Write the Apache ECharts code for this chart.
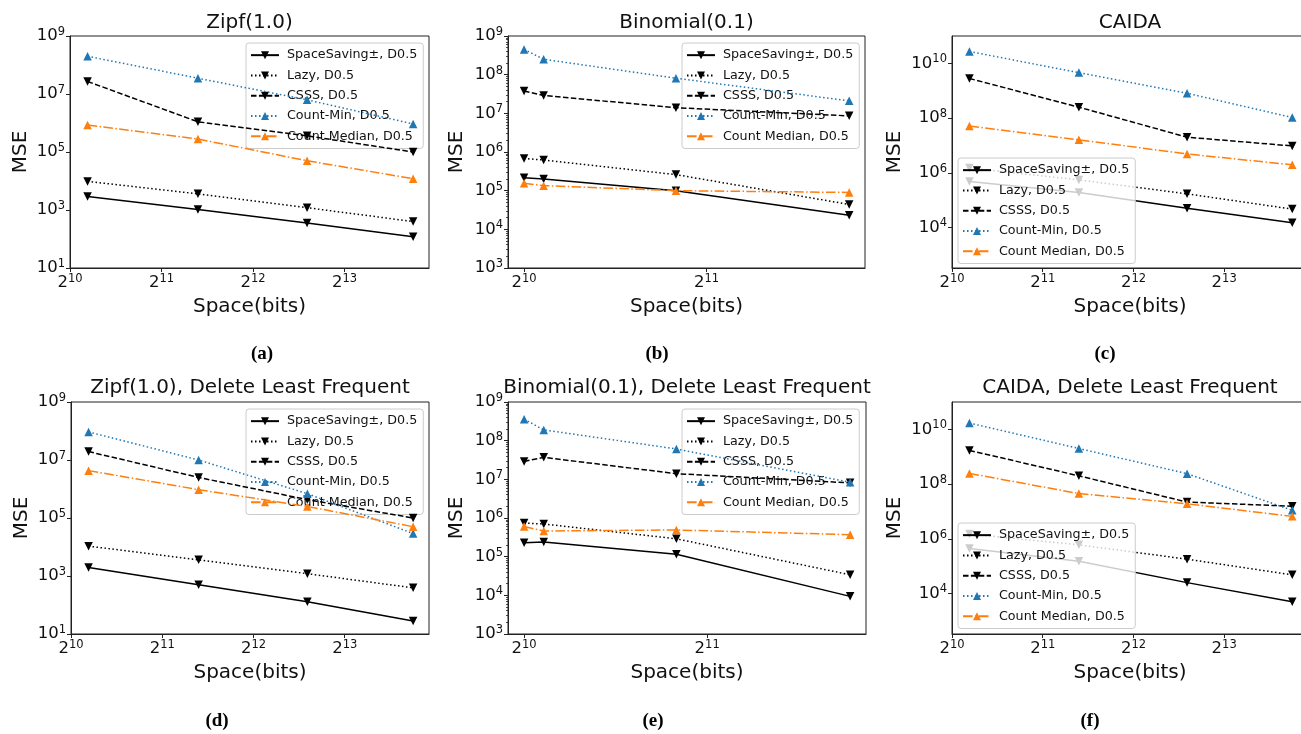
<!DOCTYPE html>
<html><head><meta charset="utf-8">
<script src="https://cdn.jsdelivr.net/npm/echarts@6/dist/echarts.min.js"></script>
<style>html,body{margin:0;padding:0;background:#fff}#c{width:1301px;height:734px}</style>
</head><body><div id="c"></div>
<script>
// ---------------- DATA ----------------
const seriesNames = ['SpaceSaving±, D0.5', 'Lazy, D0.5', 'CSSS, D0.5', 'Count-Min, D0.5', 'Count Median, D0.5'];
const panelTitles = ['Zipf(1.0)', 'Binomial(0.1)', 'CAIDA',
  'Zipf(1.0), Delete Least Frequent', 'Binomial(0.1), Delete Least Frequent', 'CAIDA, Delete Least Frequent'];
const panelCaptions = ['(a)', '(b)', '(c)', '(d)', '(e)', '(f)'];
const xAxisName = 'Space(bits)';
const yAxisName = 'MSE';

// Space (bits) of each point
const spaceZipfCaida = [1170, 2700, 6170, 13780];
const spaceBinomial = [1024, 1103, 1823, 3520];

// (a) Zipf(1.0)
const zipfSS = [2900, 1050, 355, 120];
const zipfLazy = [9700, 3600, 1200, 400];
const zipfCSSS = [2.7e7, 1.1e6, 3.6e5, 1.0e5];
const zipfCM = [2.0e8, 3.5e7, 6.3e6, 9.3e5];
const zipfCMed = [8.5e5, 2.8e5, 5.0e4, 1.2e4];
// (b) Binomial(0.1)
const binSS = [2.15e5, 2.0e5, 1.0e5, 2.3e4];
const binLazy = [6.8e5, 6.2e5, 2.6e5, 4.4e4];
const binCSSS = [3.8e7, 2.9e7, 1.4e7, 8.6e6];
const binCM = [4.5e8, 2.5e8, 8.1e7, 2.1e7];
const binCMed = [1.55e5, 1.35e5, 1.0e5, 9.0e4];
// (c) CAIDA
const caidaSS = [4.8e5, 1.9e5, 5.1e4, 1.5e4];
const caidaLazy = [1.5e6, 5.5e5, 1.7e5, 4.7e4];
const caidaCSSS = [2.8e9, 2.5e8, 2.0e7, 9.6e6];
const caidaCM = [2.7e10, 4.6e9, 8.1e8, 1.05e8];
const caidaCMed = [5.1e7, 1.6e7, 4.9e6, 1.95e6];
// (d) Zipf(1.0), Delete Least Frequent
const zipfDlfSS = [1950, 500, 130, 28];
const zipfDlfLazy = [1.07e4, 3600, 1200, 390];
const zipfDlfCSSS = [1.95e7, 2.5e6, 4.3e5, 1.0e5];
const zipfDlfCM = [9.3e7, 1.0e7, 6.9e5, 2.9e4];
const zipfDlfCMed = [4.3e6, 9.5e5, 2.5e5, 5.0e4];
// (e) Binomial(0.1), Delete Least Frequent
const binDlfSS = [2.3e5, 2.4e5, 1.15e5, 9.4e3];
const binDlfLazy = [7.4e5, 7.0e5, 2.9e5, 3.4e4];
const binDlfCSSS = [2.9e7, 3.7e7, 1.4e7, 8.1e6];
const binDlfCM = [3.6e8, 1.9e8, 6.1e7, 8.4e6];
const binDlfCMed = [6.0e5, 4.6e5, 4.9e5, 3.7e5];
// (f) CAIDA, Delete Least Frequent
const caidaDlfSS = [4.4e5, 1.5e5, 2.5e4, 5.0e3];
const caidaDlfLazy = [1.5e6, 6.0e5, 1.8e5, 4.8e4];
const caidaDlfCSSS = [1.7e9, 2.0e8, 2.2e7, 1.55e7];
const caidaDlfCM = [1.7e10, 2.0e9, 2.4e8, 1.1e7];
const caidaDlfCMed = [2.45e8, 4.5e7, 1.9e7, 6.6e6];

// tick values
const xTicksWide = [1024, 2048, 4096, 8192];
const xTicksNarrow = [1024, 2048];
const yTicksOdd = [1e1, 1e3, 1e5, 1e7, 1e9];
const yTicksAll = [1e3, 1e4, 1e5, 1e6, 1e7, 1e8, 1e9];
const yTicksEven = [1e4, 1e6, 1e8, 1e10];

// ---------------- LAYOUT / STYLE ----------------
const panelData = [
  {x: spaceZipfCaida, ys: [zipfSS, zipfLazy, zipfCSSS, zipfCM, zipfCMed]},
  {x: spaceBinomial, ys: [binSS, binLazy, binCSSS, binCM, binCMed]},
  {x: spaceZipfCaida, ys: [caidaSS, caidaLazy, caidaCSSS, caidaCM, caidaCMed]},
  {x: spaceZipfCaida, ys: [zipfDlfSS, zipfDlfLazy, zipfDlfCSSS, zipfDlfCM, zipfDlfCMed]},
  {x: spaceBinomial, ys: [binDlfSS, binDlfLazy, binDlfCSSS, binDlfCM, binDlfCMed]},
  {x: spaceZipfCaida, ys: [caidaDlfSS, caidaDlfLazy, caidaDlfCSSS, caidaDlfCM, caidaDlfCMed]}
];
const wideX = {min: 1024, max: Math.pow(2, 13.924), ticks: xTicksWide};
const narrowX = {min: Math.pow(2, 9.912), max: Math.pow(2, 11.868), ticks: xTicksNarrow};
const yOdd = {min: 10, max: 1e9, ticks: yTicksOdd, minor: false};
const yAll = {min: 1e3, max: 1e9, ticks: yTicksAll, minor: true};
const yEven = {min: Math.pow(10, 2.52), max: 1e11, ticks: yTicksEven, minor: false};
const panels = [
  {grid: [70, 36, 359, 232], xa: wideX, ya: yOdd, yGap: 39, legend: [246, 43], title: [249.5, 22.5], cap: [262, 354]},
  {grid: [508, 36, 357, 232], xa: narrowX, ya: yAll, yGap: 41, legend: [682, 43], title: [686.5, 22.5], cap: [657, 354]},
  {grid: [952, 36, 356, 232], xa: wideX, ya: yEven, yGap: 47, legend: [958, 158], title: [1130, 22.5], cap: [1105, 354]},
  {grid: [71, 402, 358, 232], xa: wideX, ya: yOdd, yGap: 39, legend: [246, 409], title: [250, 388], cap: [217, 721]},
  {grid: [508, 402, 358, 232], xa: narrowX, ya: yAll, yGap: 41, legend: [682, 409], title: [687, 388], cap: [653, 721]},
  {grid: [952, 402, 356, 232], xa: wideX, ya: yEven, yGap: 47, legend: [958, 523], title: [1130, 388], cap: [1090, 721]}
];
const FONT = 'DejaVu Sans';
const DOWN = 'path://M0,0L2,0L1,2Z';
const methodStyles = [
  {color: '#000000', dash: 'solid', symbol: DOWN},
  {color: '#000000', dash: [1.5, 2.5], symbol: DOWN},
  {color: '#000000', dash: [5.5, 2.4], symbol: DOWN},
  {color: '#1f77b4', dash: [1.5, 2.5], symbol: 'triangle'},
  {color: '#ff7f0e', dash: [9.6, 2.4, 1.5, 2.4], symbol: 'triangle'}
];
const supRich = {
  b: {fontSize: 16.5, fontFamily: FONT, color: '#111'},
  s: {fontSize: 11.5, fontFamily: FONT, color: '#111', padding: [0, 0, 8, 0]}
};

const grids = [], xAxes = [], yAxes = [], series = [], legends = [], graphics = [];
panels.forEach((p, i) => {
  grids.push({left: p.grid[0], top: p.grid[1], width: p.grid[2], height: p.grid[3],
    show: true, borderColor: '#222', borderWidth: 1, backgroundColor: 'transparent',
    containLabel: false, outerBoundsMode: 'none'});
  xAxes.push({type: 'log', logBase: 2, gridIndex: i, min: p.xa.min, max: p.xa.max,
    name: xAxisName, nameLocation: 'middle', nameGap: 29,
    nameTextStyle: {fontFamily: FONT, fontSize: 20, color: '#111'},
    axisLine: {show: true, lineStyle: {color: '#222', width: 1}},
    axisTick: {show: true, length: 4, customValues: p.xa.ticks, lineStyle: {color: '#222'}},
    axisLabel: {customValues: p.xa.ticks, margin: 5,
      formatter: v => '{b|2}{s|' + Math.round(Math.log2(v)) + '}', rich: supRich},
    splitLine: {show: false}, minorTick: {show: false}});
  yAxes.push({type: 'log', logBase: 10, gridIndex: i, min: p.ya.min, max: p.ya.max,
    name: yAxisName, nameLocation: 'middle', nameGap: p.yGap, nameRotate: 90,
    nameTextStyle: {fontFamily: FONT, fontSize: 20, color: '#111'},
    axisLine: {show: true, lineStyle: {color: '#222', width: 1}},
    axisTick: {show: true, length: 4, customValues: p.ya.ticks, lineStyle: {color: '#222'}},
    axisLabel: {customValues: p.ya.ticks, margin: 5,
      formatter: v => '{b|10}{s|' + Math.round(Math.log10(v)) + '}', rich: supRich},
    splitLine: {show: false}});
  legends.push({orient: 'vertical', left: p.legend[0], top: p.legend[1],
    itemWidth: 28, itemHeight: 10, itemGap: 6, padding: [5, 6, 5, 4],
    backgroundColor: 'rgba(255,255,255,0.8)', borderColor: '#cccccc', borderWidth: 1, borderRadius: 3,
    selectedMode: false, data: seriesNames,
    textStyle: {fontFamily: FONT, fontSize: 12.7, color: '#111', lineHeight: 14.3, padding: [0, 0, 0, 3]}});
  const d = panelData[i];
  d.ys.forEach((ys, m) => {
    const st = methodStyles[m];
    series.push({type: 'line', name: seriesNames[m], xAxisIndex: i, yAxisIndex: i,
      data: d.x.map((x, k) => [x, ys[k]]),
      symbol: st.symbol, symbolSize: 8.5, showSymbol: true,
      lineStyle: {color: st.color, width: 1.5, type: st.dash},
      itemStyle: {color: st.color}, z: 2 + m, animation: false, emphasis: {disabled: true}});
  });
  graphics.push({type: 'text', x: p.title[0], y: p.title[1],
    style: {text: panelTitles[i], fontFamily: FONT, fontSize: 20, fill: '#111', textAlign: 'center', textVerticalAlign: 'middle'}});
  graphics.push({type: 'text', x: p.cap[0], y: p.cap[1],
    style: {text: panelCaptions[i], fontFamily: 'Liberation Serif', fontWeight: 'bold', fontSize: 19, fill: '#000', textAlign: 'center', textVerticalAlign: 'middle'}});
});
// minor ticks for the Binomial panels
panels.forEach((p, i) => {
  if (!p.ya.minor) return;
  const minors = [];
  for (let e = 3; e < 9; e++) for (let k = 2; k <= 9; k++) minors.push(k * Math.pow(10, e));
  yAxes.push({type: 'log', logBase: 10, gridIndex: i, min: p.ya.min, max: p.ya.max, position: 'left',
    axisLine: {show: false}, axisLabel: {show: false}, splitLine: {show: false},
    axisTick: {show: true, length: 2, customValues: minors, lineStyle: {color: '#222', width: 0.8}}});
});

const chart = echarts.init(document.getElementById('c'), null, {renderer: 'canvas'});
chart.setOption({
  animation: false,
  backgroundColor: '#ffffff',
  grid: grids, xAxis: xAxes, yAxis: yAxes, legend: legends, series: series, graphic: graphics
});
</script></body></html>
